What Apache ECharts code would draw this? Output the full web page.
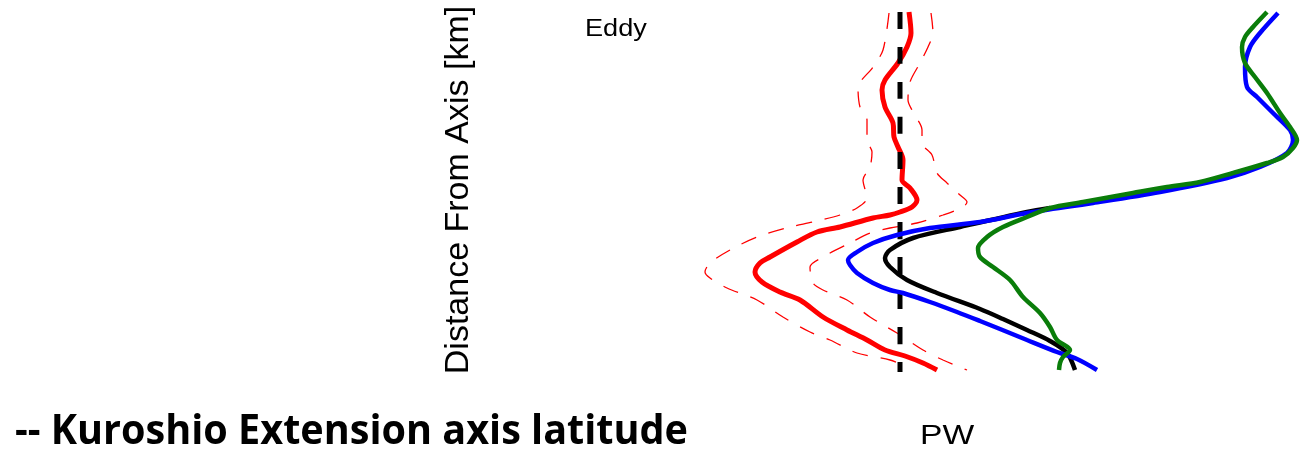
<!DOCTYPE html>
<html>
<head>
<meta charset="utf-8">
<script src="https://cdn.jsdelivr.net/npm/echarts@6/dist/echarts.min.js"></script>
<style>
  html, body { margin: 0; padding: 0; background: #fff; }
  #chart { width: 1307px; height: 452px; }
</style>
</head>
<body>
<div id="chart"></div>
<script>
// Profiles across the Kuroshio Extension: [PW, distance from axis in km]
const eddyMean = [
  [0.09, 180], [0.11, 159], [0.07, 145], [-0.02, 129], [-0.15, 112], [-0.18, 102],
  [-0.15, 85], [-0.07, 69], [-0.06, 55], [-0.02, 45], [0.03, 32], [0.02, 12],
  [0.10, 4], [0.17, -8], [0.12, -15], [0.00, -20], [-0.10, -23], [-0.27, -26],
  [-0.60, -35], [-0.83, -40], [-1.03, -50], [-1.30, -65], [-1.40, -71], [-1.45, -80],
  [-1.38, -90], [-1.20, -100], [-1.00, -108], [-0.77, -125], [-0.53, -138], [-0.33, -148],
  [-0.15, -158], [0.05, -164], [0.23, -171], [0.37, -178]
];
const eddyLower = [
  [-0.11, 179], [-0.17, 142], [-0.27, 125], [-0.42, 104], [-0.40, 85], [-0.33, 72],
  [-0.33, 52], [-0.28, 40], [-0.30, 25], [-0.37, 12], [-0.33, -6], [-0.43, -16],
  [-0.60, -23], [-0.87, -30], [-1.10, -35], [-1.43, -45], [-1.70, -58], [-1.90, -71],
  [-1.95, -80], [-1.90, -86], [-1.73, -96], [-1.43, -108], [-1.17, -125], [-0.90, -140],
  [-0.70, -148], [-0.43, -161], [-0.10, -168], [0.07, -175]
];
const eddyUpper = [
  [0.31, 179], [0.33, 159], [0.28, 145], [0.20, 129], [0.10, 110], [0.08, 92],
  [0.13, 80], [0.22, 62], [0.22, 49], [0.32, 37], [0.37, 19], [0.47, 9],
  [0.60, -3], [0.67, -10], [0.63, -15], [0.43, -23], [0.17, -31], [-0.10, -36],
  [-0.30, -41], [-0.50, -51], [-0.77, -65], [-0.90, -75], [-0.87, -91], [-0.77, -98],
  [-0.53, -108], [-0.30, -125], [-0.03, -141], [0.23, -158], [0.43, -168], [0.67, -178]
];
const zeroLine = [[0, 180], [0, -180]];
const pwBlack = [
  [1.50, -16], [1.27, -20], [0.60, -35], [0.13, -46], [-0.10, -58],
  [-0.15, -66], [-0.10, -75], [0.07, -88], [0.37, -101], [0.80, -117], [1.03, -127],
  [1.27, -138], [1.50, -149], [1.67, -161], [1.75, -178]
];
const pwBlue = [
  [3.78, 179], [3.60, 159], [3.50, 145], [3.45, 125], [3.47, 105], [3.57, 95],
  [3.73, 79], [3.90, 62], [3.93, 52], [3.87, 39], [3.60, 25], [3.27, 14],
  [2.60, 0], [1.93, -11], [1.27, -21], [0.80, -30], [0.30, -36], [-0.03, -43],
  [-0.27, -51], [-0.43, -60], [-0.52, -68], [-0.50, -73], [-0.43, -81], [-0.27, -91],
  [-0.10, -98], [0.03, -101], [0.30, -110], [0.57, -120], [0.80, -129], [1.00, -137],
  [1.27, -148], [1.57, -160], [1.77, -167], [1.97, -178]
];
const pwGreen = [
  [3.67, 180], [3.53, 165], [3.45, 155], [3.42, 145], [3.45, 129], [3.55, 115],
  [3.67, 99], [3.80, 79], [3.90, 65], [3.97, 52], [3.93, 44], [3.83, 35],
  [3.67, 29], [3.33, 19], [3.00, 10], [2.67, 5], [2.33, -1], [1.83, -10],
  [1.50, -16], [1.27, -25], [1.03, -35], [0.87, -45], [0.78, -56], [0.80, -65],
  [0.93, -75], [1.10, -88], [1.23, -105], [1.40, -121], [1.50, -135], [1.57, -148],
  [1.70, -158], [1.63, -165], [1.60, -171], [1.59, -178]
];

const titleText = '-- Kuroshio Extension axis latitude';
const yTitle = 'Distance From Axis [km]';
const topLabel = 'Eddy';
const xTitle = 'PW';

// squeeze the bold heading to its line width
function widthOf(text, font) {
  const c = document.createElement('canvas').getContext('2d');
  c.font = font;
  return c.measureText(text).width;
}
const titleFont = 'bold 42px "Open Sans"';
const titleScale = 673 / widthOf(titleText, titleFont);

const chart = echarts.init(document.getElementById('chart'), null, { renderer: 'canvas' });

function profile(data, color, width, dash, z) {
  return {
    type: 'line',
    data: data,
    showSymbol: false,
    symbol: 'none',
    smooth: 0.3,
    z: z,
    lineStyle: { color: color, width: width, type: dash || 'solid', cap: 'butt' },
    animation: false
  };
}

chart.setOption({
  animation: false,
  backgroundColor: '#ffffff',
  grid: { left: 600, right: 7, top: 12, bottom: 80 },
  xAxis: { type: 'value', min: -3, max: 4, show: false },
  yAxis: { type: 'value', min: -180, max: 180, show: false },
  series: [
    profile(eddyLower, '#ff0000', 1.3, [16, 13], 2),
    profile(eddyUpper, '#ff0000', 1.3, [16, 13], 2),
    profile(eddyMean, '#ff0000', 5, 'solid', 3),
    profile(zeroLine, '#000000', 5, [17, 18], 4),
    profile(pwBlack, '#000000', 4.5, 'solid', 5),
    profile(pwBlue, '#0000ff', 4.5, 'solid', 6),
    profile(pwGreen, '#0a7d0a', 4.5, 'solid', 7)
  ],
  graphic: [
    {
      type: 'text', x: 585, y: 30, scaleX: 1.18,
      style: { text: topLabel, font: '23px "Liberation Sans"', fill: '#000', align: 'left', verticalAlign: 'middle' }
    },
    {
      type: 'text', x: 920, y: 436, scaleX: 1.2,
      style: { text: xTitle, font: '28px "Liberation Sans"', fill: '#000', align: 'left', verticalAlign: 'middle' }
    },
    {
      type: 'text', x: 459, y: 190, rotation: Math.PI / 2,
      style: { text: yTitle, font: '34px "Liberation Sans"', fill: '#000', align: 'center', verticalAlign: 'middle' }
    },
    {
      type: 'text', x: 15, y: 432, scaleX: titleScale,
      style: { text: titleText, font: titleFont, fill: '#000', align: 'left', verticalAlign: 'middle' }
    }
  ]
});
</script>
</body>
</html>
